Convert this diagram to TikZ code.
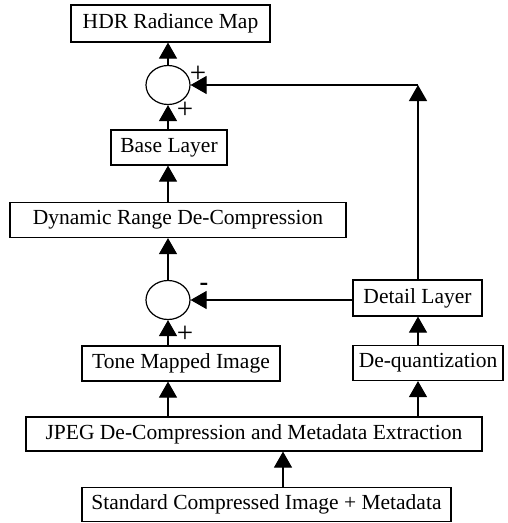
\documentclass[tikz,border=0pt]{standalone}
\usepackage{fontspec}
\setmainfont{Liberation Serif}
\usetikzlibrary{arrows.meta, shapes.geometric}

\begin{document}
\begin{tikzpicture}[x=1pt, y=-1pt, line width=1.2pt,
    >={Triangle[length=16pt,width=18pt]},
    blk/.style={draw, rectangle, inner sep=0pt, minimum height=35pt,
      font=\fontsize{21.5}{24}\selectfont},
    sum/.style={draw, ellipse, minimum width=44pt, minimum height=39pt, inner sep=0pt},
    sgn/.style={inner sep=0pt, font=\fontsize{29}{30}\selectfont}]
  \useasboundingbox (0,0) rectangle (508,523);

  % Define the blocks
  \node[blk, minimum width=199pt, minimum height=37pt] (H) at (170.5,23.5) {HDR Radiance Map};
  \node[sum] (S1) at (168,85) {};
  \node[blk, minimum width=116pt] (B) at (169,147.5) {Base Layer};
  \node[blk, minimum width=336pt] (R) at (178,220) {Dynamic Range De-Compression};
  \node[sum] (S2) at (168,300) {};
  \node[blk, minimum width=129pt, minimum height=36pt] (D) at (417.5,298) {Detail Layer};
  \node[blk, minimum width=198pt] (T) at (181,363.5) {Tone Mapped Image};
  \node[blk, minimum width=150pt] (Q) at (428,363) {De-quantization};
  \node[blk, minimum width=456pt, minimum height=34pt] (J) at (254,434) {JPEG De-Compression and Metadata Extraction};
  \node[blk, minimum width=369pt, minimum height=34pt] (C) at (266.5,504.5) {Standard Compressed Image + Metadata};

  % Corner of the detail path
  \coordinate (K) at (418,85);

  % Signs at the summing points
  \node[sgn] (p1) at (198,74) {+};
  \node[sgn] (p2) at (185,110) {+};
  \node[sgn, font=\bfseries\fontsize{26}{28}\selectfont] (m1) at (204,287) {-};
  \node[sgn] (p3) at (185,334) {+};

  % Draw the connectors
  \draw[->] ([xshift=16.5pt]C.north) -- ([xshift=16.5pt]C.north |- J.south);
  \draw[->] (J.north -| S2) -- (T.south -| S2);
  \draw[->] (J.north -| K) -- (Q.south -| K);
  \draw[->] (T.north -| S2) -- (S2.south);
  \draw[->] (Q.north -| K) -- (D.south -| K);
  \draw[->] (D.west |- S2) -- (S2.east);
  \draw[->] (S2.north) -- (R.south -| S2);
  \draw[->] (R.north -| S2) -- (B.south -| S2);
  \draw[->] (B.north -| S1) -- (S1.south);
  \draw[->] (D.north -| K) -- (K);
  \draw[->] (K) -- (S1.east);
  \draw[->] (S1.north) -- (H.south -| S1);

\end{tikzpicture}
\end{document}
